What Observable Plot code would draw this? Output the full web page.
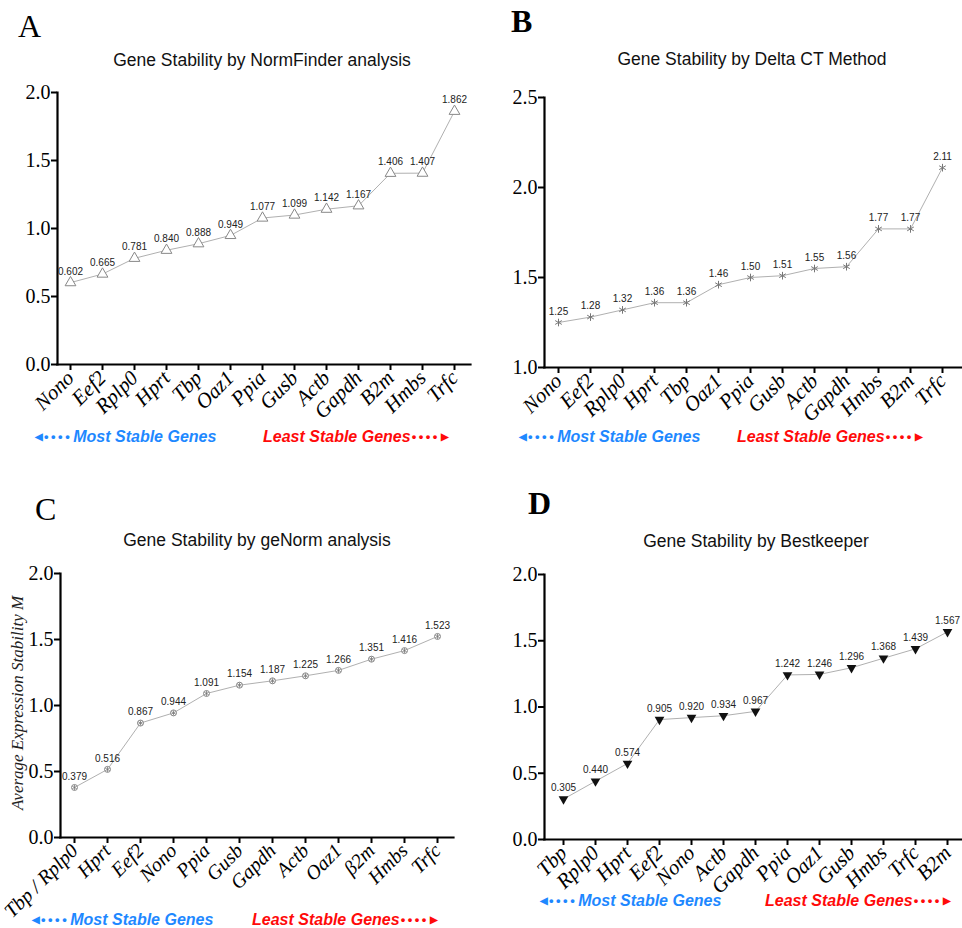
<!DOCTYPE html>
<html><head><meta charset="utf-8">
<script src="https://cdn.jsdelivr.net/npm/d3@7"></script>
<script src="https://cdn.jsdelivr.net/npm/@observablehq/plot@0.6"></script>
<style>
body{margin:0;background:#fff;width:962px;height:928px;position:relative;overflow:hidden;font-family:"Liberation Sans",Arial,sans-serif;}
.letter{font-family:"Liberation Serif","Times New Roman",serif;font-size:32px;line-height:1;color:#000;}
.title{font-size:17.5px;color:#111;transform:translate(-50%,-50%);white-space:nowrap;line-height:1;}
.legend{font-weight:bold;font-style:italic;font-size:16px;white-space:nowrap;line-height:1;}
.blue{color:#1e88ff}
.red{color:#ff0a0a}
.dots{font-style:normal;letter-spacing:2.5px;font-size:13px;vertical-align:1px;margin:0 1px}
.arr{font-style:normal;font-size:10px;vertical-align:2px}
.ylab{font-family:"Liberation Serif","Times New Roman",serif;font-style:italic;font-size:17px;white-space:nowrap;transform:translate(-50%,-50%) rotate(-90deg);color:#222;line-height:1}
</style>
</head><body>
<script>
// Panel A — NormFinder
const genesA = ["Nono","Eef2","Rplp0","Hprt","Tbp","Oaz1","Ppia","Gusb","Actb","Gapdh","B2m","Hmbs","Trfc"];
const valuesA = [0.602,0.665,0.781,0.840,0.888,0.949,1.077,1.099,1.142,1.167,1.406,1.407,1.862];
const yTicksA = [0,0.5,1,1.5,2];
// Panel B — Delta CT
const genesB = ["Nono","Eef2","Rplp0","Hprt","Tbp","Oaz1","Ppia","Gusb","Actb","Gapdh","Hmbs","B2m","Trfc"];
const valuesB = [1.25,1.28,1.32,1.36,1.36,1.46,1.50,1.51,1.55,1.56,1.77,1.77,2.11];
const yTicksB = [1,1.5,2,2.5];
// Panel C — geNorm
const genesC = ["Tbp / Rplp0","Hprt","Eef2","Nono","Ppia","Gusb","Gapdh","Actb","Oaz1","β2m","Hmbs","Trfc"];
const valuesC = [0.379,0.516,0.867,0.944,1.091,1.154,1.187,1.225,1.266,1.351,1.416,1.523];
const yTicksC = [0,0.5,1,1.5,2];
// Panel D — Bestkeeper
const genesD = ["Tbp","Rplp0","Hprt","Eef2","Nono","Actb","Gapdh","Ppia","Oaz1","Gusb","Hmbs","Trfc","B2m"];
const valuesD = [0.305,0.440,0.574,0.905,0.920,0.934,0.967,1.242,1.246,1.296,1.368,1.439,1.567];
const yTicksD = [0,0.5,1,1.5,2];

const titles = ["Gene Stability by NormFinder analysis","Gene Stability by Delta CT Method","Gene Stability by geNorm analysis","Gene Stability by Bestkeeper"];
const letters = ["A","B","C","D"];
const yLabelC = "Average Expression Stability M";
const legendMost = "Most Stable Genes";
const legendLeast = "Least Stable Genes";

const serif = '"Liberation Serif","Times New Roman",serif';
const sans = '"Liberation Sans",Arial,sans-serif';

const triDown = {draw(ctx, size){
  const y = -Math.sqrt(size / (Math.sqrt(3) * 3));
  ctx.moveTo(0, -y * 2);
  ctx.lineTo(-Math.sqrt(3) * y, y);
  ctx.lineTo(Math.sqrt(3) * y, y);
  ctx.closePath();
}};

function add(el, left, top){ el.style.position="absolute"; el.style.left=left+"px"; el.style.top=top+"px"; document.body.appendChild(el); return el; }
function div(cls, html){ const d=document.createElement("div"); d.className=cls; d.innerHTML=html; return d; }

function panel(o){
  const data = o.genes.map((g,i)=>({gene:g, value:o.values[i]}));
  const marks = [
    Plot.axisY({ticks:o.yTicks, tickFormat:d3.format(".1f"), fontSize:20, fontFamily:serif, tickSize:6, tickPadding:1, strokeWidth:2, label:null}),
    Plot.axisX({tickRotate:-45, fontSize:o.xFont || 21, fontFamily:serif, fontStyle:"italic", tickSize:6, tickPadding:4, strokeWidth:2, label:null}),
    Plot.frame({anchor:"left", stroke:"#000", strokeWidth:2.2}),
    Plot.frame({anchor:"bottom", stroke:"#000", strokeWidth:2.2}),
    Plot.line(data,{x:"gene", y:"value", stroke:"#b0b0b0", strokeWidth:1}),
    ...o.symbolMarks(data),
    Plot.text(data,{x:"gene", y:"value", text:d=>d3.format(o.fmt)(d.value), dy:-11, fontSize:10, fontFamily:sans, fill:"#222"})
  ];
  const svg = Plot.plot({
    width:481, height:o.height,
    marginLeft:o.ml, marginRight:o.mr, marginTop:o.mt, marginBottom:o.mb,
    x:{type:"point", domain:o.genes, padding:o.padding, align:o.align, label:null},
    y:{domain:o.yDomain, label:null},
    style:{background:"transparent", overflow:"visible", color:"#000"},
    marks
  });
  add(svg, o.left, o.top);
}

panel({genes:genesA, values:valuesA, yTicks:yTicksA, yDomain:[0,2], fmt:".3f",
  left:0, top:80, height:350, ml:57, mr:11, mt:12, mb:66, padding:0.354, align:0.435,
  symbolMarks:data=>[Plot.dot(data,{x:"gene",y:"value",symbol:"triangle",r:4,stroke:"#888",fill:"#fff",strokeWidth:1})]});

panel({genes:genesB, values:valuesB, yTicks:yTicksB, yDomain:[1,2.5], fmt:".2f",
  left:481, top:85, height:348, ml:63, mr:0, mt:12, mb:66, padding:0.398, align:0.42,
  symbolMarks:data=>[Plot.dot(data,{x:"gene",y:"value",symbol:"asterisk",r:3.6,stroke:"#777",strokeWidth:1})]});

panel({genes:genesC, values:valuesC, yTicks:yTicksC, yDomain:[0,2], fmt:".3f", xFont:20,
  left:0, top:561, height:366, ml:60, mr:28, mt:12, mb:90, padding:0.369, align:0.47,
  symbolMarks:data=>[
    Plot.dot(data,{x:"gene",y:"value",symbol:"circle",r:3,stroke:"#888",fill:"#fff",strokeWidth:1}),
    Plot.dot(data,{x:"gene",y:"value",symbol:"asterisk",r:2.4,stroke:"#777",strokeWidth:0.8})]});

panel({genes:genesD, values:valuesD, yTicks:yTicksD, yDomain:[0,2], fmt:".3f",
  left:481, top:562, height:343, ml:63, mr:0, mt:12, mb:66, padding:0.338, align:0.57,
  symbolMarks:data=>[Plot.dot(data,{x:"gene",y:"value",symbol:triDown,r:3.6,fill:"#111",stroke:"none"})]});

// letters
const letterPos = [[18,10,false],[511,5,true],[35,493,false],[528,487,true]];
letters.forEach((l,i)=>{ const d=div("letter", l); if(letterPos[i][2]) d.style.fontWeight="bold"; add(d, letterPos[i][0], letterPos[i][1]); });
// titles
const titlePos = [[262,61],[752,60],[257,541],[756,542]];
titles.forEach((t,i)=>add(div("title", t), titlePos[i][0], titlePos[i][1]));
// y label C
add(div("ylab", yLabelC), 17, 703);
// legends
const legendPos = [[35,263,429],[519,737,429],[32,252,912],[540,765,893]];
legendPos.forEach(([bl,rl,t])=>{
  add(div("legend blue", `<span class="arr">◀</span><span class="dots">••••</span>${legendMost}`), bl, t);
  add(div("legend red", `${legendLeast}<span class="dots">••••</span><span class="arr">▶</span>`), rl, t);
});
</script>
</body></html>
